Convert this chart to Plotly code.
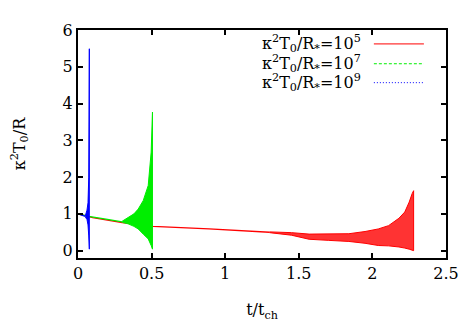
import plotly.graph_objects as go

# ---- data ----
series_names = ["κ<sup>2</sup>T<sub>0</sub>/R<sub>*</sub>=10<sup>5</sup>",
                "κ<sup>2</sup>T<sub>0</sub>/R<sub>*</sub>=10<sup>7</sup>",
                "κ<sup>2</sup>T<sub>0</sub>/R<sub>*</sub>=10<sup>9</sup>"]
colors = ["#ff0000", "#00ee00", "#0000ff"]
fill_colors = ["rgba(255,0,0,0.8)", "rgba(0,238,0,1)", "rgba(0,0,255,1)"]
dashes = ["solid", "3px,2px", "1px,2px"]

# smooth (non-oscillating) part
red_t_mean = [0.0, 0.1, 0.3, 0.51, 0.89, 1.16, 1.30]
red_y_mean = [1.0, 0.9, 0.76, 0.66, 0.59, 0.53, 0.50]
green_t_mean = [0.0, 0.073, 0.2, 0.3]
green_y_mean = [1.0, 0.93, 0.85, 0.79]
blue_t_mean = [0.0, 0.03, 0.05]
blue_y_mean = [1.0, 0.97, 0.93]

# oscillating part: upper / lower envelope
red_t_env = [1.30, 1.45, 1.57, 1.70, 1.84, 1.95, 2.04, 2.11, 2.18, 2.22, 2.25, 2.27, 2.28]
red_y_up = [0.51, 0.49, 0.45, 0.45, 0.46, 0.52, 0.59, 0.68, 0.88, 1.05, 1.32, 1.55, 1.63]
red_y_lo = [0.49, 0.42, 0.31, 0.28, 0.25, 0.20, 0.14, 0.13, 0.10, 0.07, 0.04, 0.02, 0.00]

green_t_env = [0.30, 0.34, 0.38, 0.409, 0.443, 0.477, 0.497, 0.506]
green_y_up = [0.80, 0.91, 1.00, 1.13, 1.36, 1.77, 2.68, 3.77]
green_y_lo = [0.77, 0.73, 0.66, 0.59, 0.45, 0.32, 0.14, 0.04]

blue_t_env = [0.05, 0.061, 0.068, 0.073, 0.077]
blue_y_up = [0.95, 1.10, 1.30, 2.00, 5.49]
blue_y_lo = [0.91, 0.85, 0.70, 0.40, 0.04]

x_ticks = [0, 0.5, 1, 1.5, 2, 2.5]
x_tick_labels = ["0", "0.5", "1", "1.5", "2", "2.5"]
y_ticks = [0, 1, 2, 3, 4, 5, 6]

SERIF = "DejaVu Serif"

means = [(red_t_mean, red_y_mean), (green_t_mean, green_y_mean), (blue_t_mean, blue_y_mean)]
envs = [(red_t_env, red_y_up, red_y_lo), (green_t_env, green_y_up, green_y_lo),
        (blue_t_env, blue_y_up, blue_y_lo)]

fig = go.Figure()
for i in range(3):
    tm, ym = means[i]
    te, yu, yl = envs[i]
    fig.add_trace(go.Scatter(x=list(tm) + [te[0]], y=list(ym) + [(yu[0] + yl[0]) / 2],
                             mode="lines", name=series_names[i],
                             line=dict(color=colors[i], width=1.3),
                             showlegend=False))
    fig.add_trace(go.Scatter(
        x=list(te) + list(te)[::-1], y=list(yu) + list(yl)[::-1],
        mode="lines", fill="toself", fillcolor=fill_colors[i],
        line=dict(color=colors[i], width=1), showlegend=False, hoverinfo="skip"))

legend_y = [0.939, 0.852, 0.769]
for i in range(3):
    fig.add_annotation(xref="paper", yref="paper", x=0.774, y=legend_y[i],
                       text=series_names[i], showarrow=False,
                       xanchor="right", yanchor="middle",
                       font=dict(family=SERIF, size=16, color="black"))
    fig.add_shape(type="line", xref="paper", yref="paper",
                  x0=0.804, x1=0.940, y0=legend_y[i], y1=legend_y[i],
                  line=dict(color=colors[i], width=1, dash=dashes[i]))

axis_common = dict(showline=True, linecolor="black", linewidth=2, mirror="allticks",
                   ticks="inside", ticklen=5, tickwidth=1.5, tickcolor="black",
                   showgrid=False, zeroline=False, automargin=False,
                   tickfont=dict(family=SERIF, size=16, color="black"))

fig.update_layout(
    width=473, height=331,
    margin=dict(l=70, r=35, t=22, b=81),
    paper_bgcolor="white", plot_bgcolor="white",
    font=dict(family=SERIF, size=16, color="black"),
    xaxis=dict(range=[0, 2.5], tickvals=x_ticks, ticktext=x_tick_labels,
               title=dict(text="t/t<sub>ch</sub>", standoff=22,
                          font=dict(family=SERIF, size=16)),
               **axis_common),
    yaxis=dict(range=[-0.2, 6], tickvals=y_ticks,
               title=dict(text="κ<sup>2</sup>T<sub>0</sub>/R", standoff=33,
                          font=dict(family=SERIF, size=16)),
               **axis_common),
    showlegend=False,
)

fig.write_html("out.html")
